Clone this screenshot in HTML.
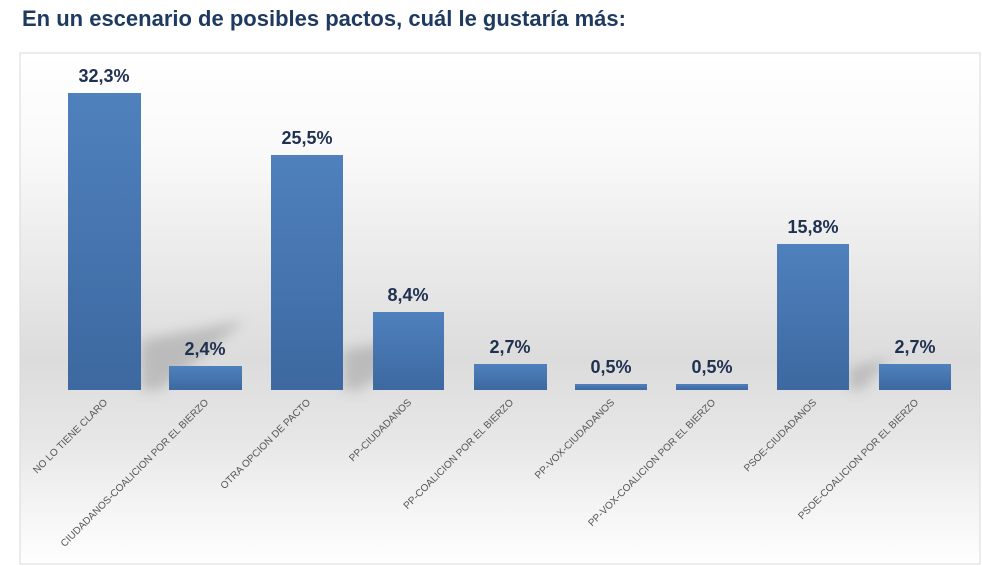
<!DOCTYPE html>
<html><head><meta charset="utf-8"><style>
html,body{margin:0;padding:0;background:#fff;width:982px;height:566px;overflow:hidden}
.t{position:absolute;left:22px;top:6px;font:bold 22px "Liberation Sans",sans-serif;color:#1f3a60;}
svg{position:absolute;left:0;top:0}
</style></head><body>
<div class="t">En un escenario de posibles pactos, cuál le gustaría más:</div>
<svg width="982" height="566" xmlns="http://www.w3.org/2000/svg">
<defs>
<linearGradient id="bg" x1="0" y1="0" x2="0" y2="1">
<stop offset="0" stop-color="#ffffff"/>
<stop offset="0.2" stop-color="#f9f9f9"/>
<stop offset="0.6" stop-color="#dcdcdc"/>
<stop offset="0.75" stop-color="#e6e6e6"/>
<stop offset="1" stop-color="#ffffff"/>
</linearGradient>
<linearGradient id="bar" x1="0" y1="0" x2="0" y2="1">
<stop offset="0" stop-color="#4f81bd"/>
<stop offset="1" stop-color="#3d68a0"/>
</linearGradient>
<filter id="bl" x="-50%" y="-50%" width="200%" height="200%"><feGaussianBlur stdDeviation="6"/></filter>
</defs>
<rect x="20" y="53" width="960" height="511" fill="url(#bg)" stroke="#d9d9d9" stroke-width="1"/>
<g fill="#8a8a8a" opacity="0.4" filter="url(#bl)">
<polygon points="141,390 141,340 245,320 160,390"/>
<polygon points="343,390 343,350 440,333 360,390"/>
<polygon points="849,390 849,368 890,358 862,390"/>
</g>
<g fill="url(#bar)">
<rect x="68" y="93" width="73" height="297"/>
<rect x="169" y="366" width="73" height="24"/>
<rect x="271" y="155" width="72" height="235"/>
<rect x="373" y="312" width="71" height="78"/>
<rect x="474" y="364" width="73" height="26"/>
<rect x="575" y="384" width="72" height="6"/>
<rect x="676" y="384" width="72" height="6"/>
<rect x="777" y="244" width="72" height="146"/>
<rect x="879" y="364" width="72" height="26"/>
</g>
<g font-family="Liberation Sans, sans-serif" font-weight="bold" font-size="18" fill="#1f3050" text-anchor="middle">
<text x="104" y="82">32,3%</text>
<text x="205" y="355">2,4%</text>
<text x="307" y="144">25,5%</text>
<text x="408" y="301">8,4%</text>
<text x="510" y="353">2,7%</text>
<text x="611" y="373">0,5%</text>
<text x="712" y="373">0,5%</text>
<text x="813" y="233">15,8%</text>
<text x="915" y="353">2,7%</text>
</g>
<g font-family="Liberation Sans, sans-serif" font-size="10" fill="#555" text-anchor="end">
<text transform="translate(108,403) rotate(-45)">NO LO TIENE CLARO</text>
<text transform="translate(209,403) rotate(-45)">CIUDADANOS-COALICION POR EL BIERZO</text>
<text transform="translate(311,403) rotate(-45)">OTRA OPCION DE PACTO</text>
<text transform="translate(412,403) rotate(-45)">PP-CIUDADANOS</text>
<text transform="translate(514,403) rotate(-45)">PP-COALICION POR EL BIERZO</text>
<text transform="translate(615,403) rotate(-45)">PP-VOX-CIUDADANOS</text>
<text transform="translate(716,403) rotate(-45)">PP-VOX-COALICION POR EL BIERZO</text>
<text transform="translate(817,403) rotate(-45)">PSOE-CIUDADANOS</text>
<text transform="translate(919,403) rotate(-45)">PSOE-COALICION POR EL BIERZO</text>
</g>
</svg>
</body></html>
